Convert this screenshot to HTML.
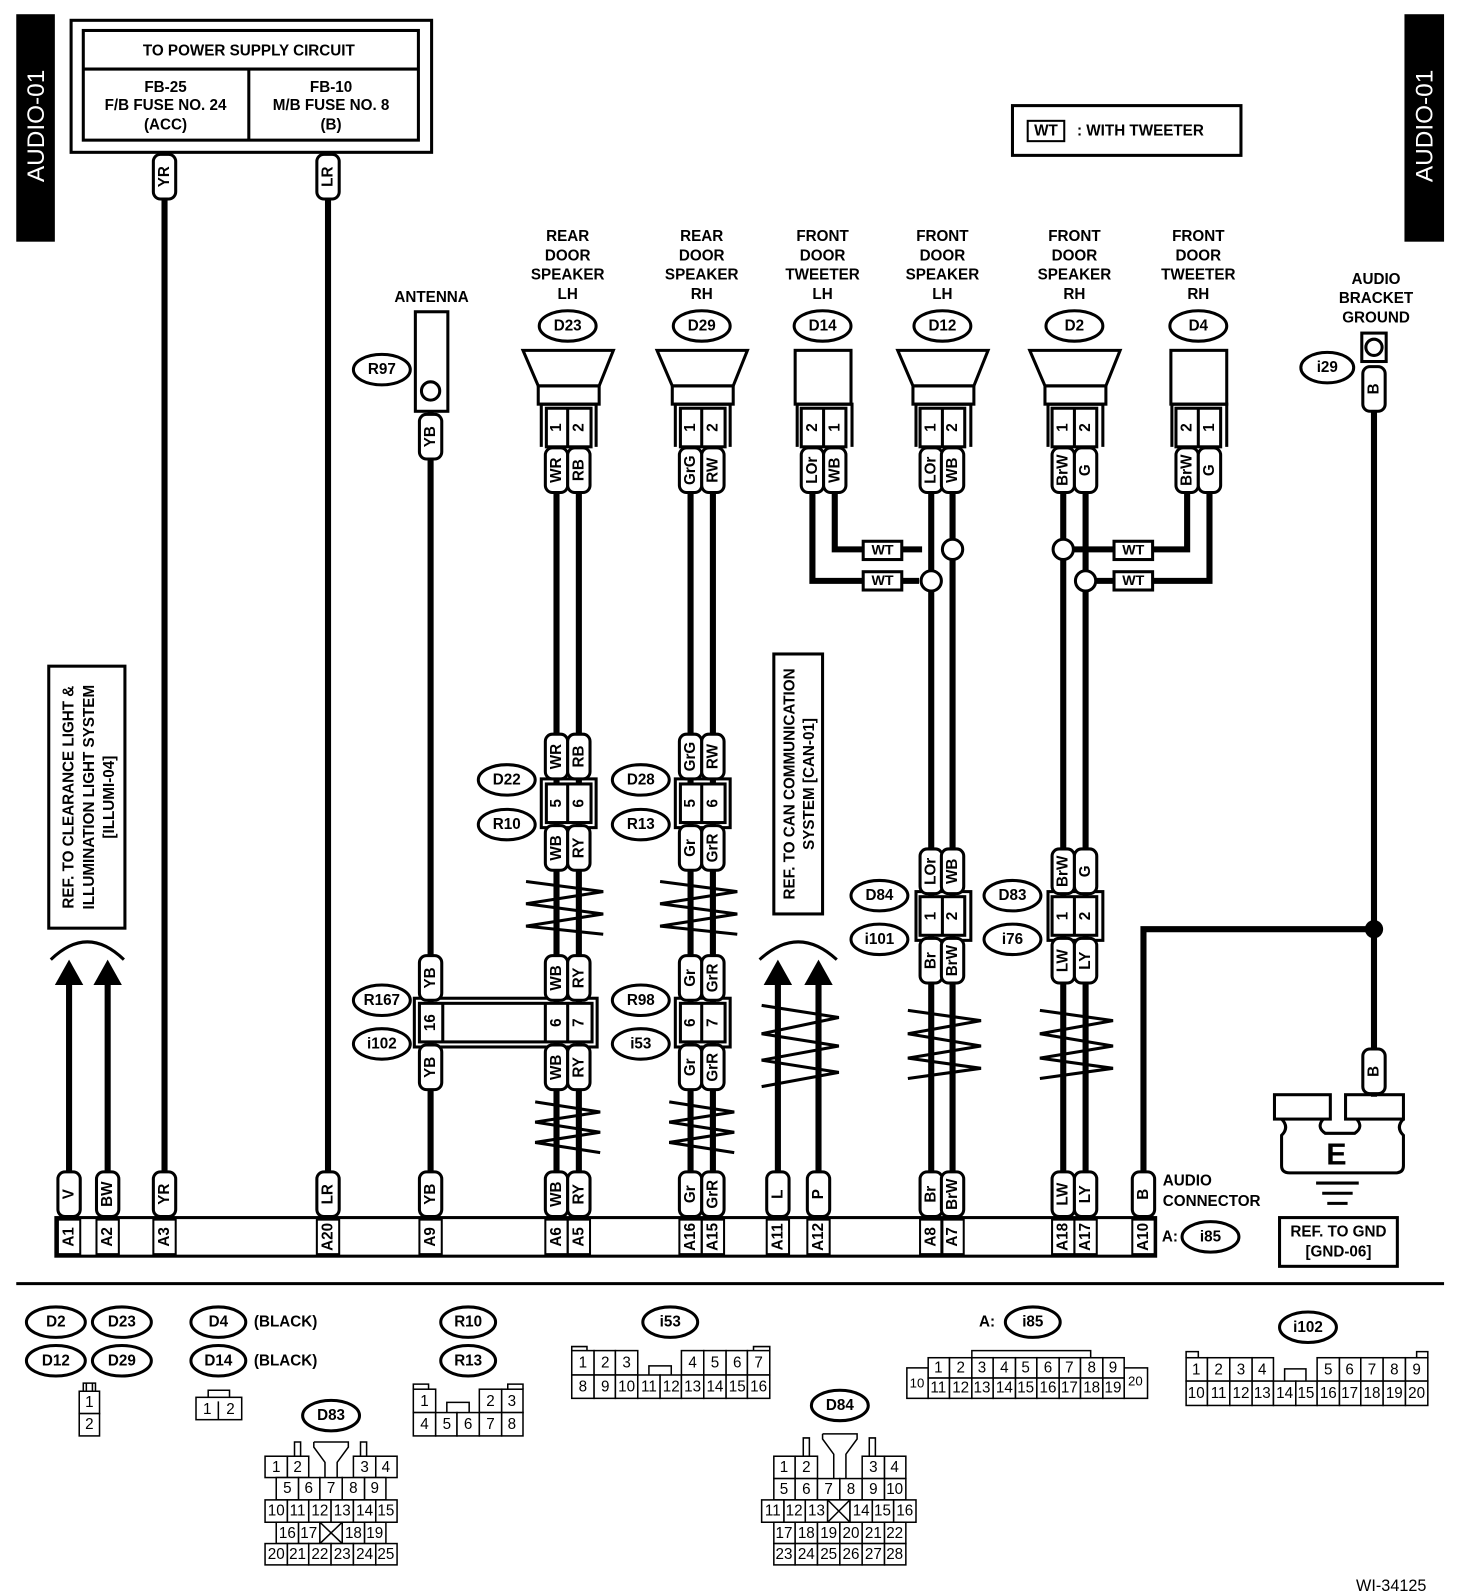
<!DOCTYPE html>
<html><head><meta charset="utf-8"><style>
html,body{margin:0;padding:0;background:#fff}
svg{display:block}
text{font-family:"Liberation Sans",Arial,sans-serif;font-weight:bold;font-size:15px;text-anchor:middle;dominant-baseline:central;fill:#000}
.w{stroke:#000;stroke-width:6;fill:none}
.pl{fill:#fff;stroke:#000;stroke-width:3}
.o{fill:#fff;stroke:#000;stroke-width:3}
.b{fill:none;stroke:#000;stroke-width:3}
.c rect{fill:#fff;stroke:#000;stroke-width:1.5}
.c text{font-weight:normal;font-size:15px}
.c path{fill:none;stroke:#000;stroke-width:1.5}
</style></head><body>
<svg width="1472" height="1592" viewBox="0 0 1449.5 1567.7" xmlns="http://www.w3.org/2000/svg">
<!-- side tabs -->
<rect x="16" y="14" width="38" height="224" fill="#000"/>
<text transform="translate(36,124) rotate(-90)" style="fill:#fff;font-weight:normal;font-size:24px">AUDIO-01</text>
<rect x="1383" y="14" width="39" height="224" fill="#000"/>
<text transform="translate(1403,124) rotate(-90)" style="fill:#fff;font-weight:normal;font-size:24px">AUDIO-01</text>

<!-- power supply box -->
<rect x="70" y="20" width="355" height="130" class="b"/>
<rect x="82" y="30" width="330" height="108" class="b"/>
<line x1="82" y1="68" x2="412" y2="68" class="b"/>
<line x1="245" y1="68" x2="245" y2="138" class="b"/>
<text x="245" y="50" style="font-size:15px">TO POWER SUPPLY CIRCUIT</text>
<text x="163" y="86">FB-25</text><text x="163" y="104">F/B FUSE NO. 24</text><text x="163" y="123">(ACC)</text>
<text x="326" y="86">FB-10</text><text x="326" y="104">M/B FUSE NO. 8</text><text x="326" y="123">(B)</text>

<!-- WT legend -->
<rect x="997" y="104" width="225" height="49" class="b"/>
<rect x="1012" y="119" width="36" height="20" class="b" style="stroke-width:2"/>
<text x="1030" y="129">WT</text><text x="1123" y="129" style="font-size:15px">: WITH TWEETER</text>

<!-- wires -->
<g class="w">
<line x1="68" y1="960" x2="68" y2="1200"/>
<line x1="106" y1="960" x2="106" y2="1200"/>
<line x1="162" y1="150" x2="162" y2="1200"/>
<line x1="323" y1="150" x2="323" y2="1200"/>
<line x1="424" y1="405" x2="424" y2="1200"/>
<line x1="548" y1="440" x2="548" y2="1200"/><line x1="570" y1="440" x2="570" y2="1200"/>
<line x1="680" y1="440" x2="680" y2="1200"/><line x1="702" y1="440" x2="702" y2="1200"/>
<line x1="766" y1="960" x2="766" y2="1200"/><line x1="806" y1="960" x2="806" y2="1200"/>
<line x1="917" y1="440" x2="917" y2="1200"/><line x1="938" y1="440" x2="938" y2="1200"/>
<line x1="1047" y1="440" x2="1047" y2="1200"/><line x1="1069" y1="440" x2="1069" y2="1200"/>
<polyline points="1126,1200 1126,915 1353,915"/>
<line x1="1353" y1="370" x2="1353" y2="1080"/>
<polyline points="800,440 800,572 905,572"/>
<polyline points="822,440 822,541 908,541"/>
<polyline points="1169,440 1169,541 1057,541"/>
<polyline points="1191,440 1191,572 1080,572"/>
</g>
<circle cx="1353" cy="915" r="9" fill="#000"/>
<!-- arrows -->
<g fill="#000"><polygon points="68,945 54,970 82,970"/><polygon points="106,945 92,970 120,970"/>
<polygon points="766,945 752,970 780,970"/><polygon points="806,945 792,970 820,970"/></g>
<path d="M50,945 Q86,910 122,945" class="b"/>
<path d="M748,945 Q786,910 824,945" class="b"/>

<!-- WT boxes & junctions -->
<g><rect x="850" y="533" width="38" height="18" class="pl"/><text x="869" y="542" style="font-size:14px">WT</text>
<rect x="850" y="563" width="38" height="18" class="pl"/><text x="869" y="572" style="font-size:14px">WT</text>
<rect x="1097" y="533" width="38" height="18" class="pl"/><text x="1116" y="542" style="font-size:14px">WT</text>
<rect x="1097" y="563" width="38" height="18" class="pl"/><text x="1116" y="572" style="font-size:14px">WT</text></g>
<circle cx="938" cy="541" r="10" class="o"/><circle cx="917" cy="572" r="10" class="o"/>
<circle cx="1047" cy="541" r="10" class="o"/><circle cx="1069" cy="572" r="10" class="o"/>

<!-- twist marks -->
<g class="b" style="stroke-width:3">
<path d="M518,868 L594,878 L518,890 L594,900 L518,912 L594,920"/>
<path d="M650,868 L726,878 L650,890 L726,900 L650,912 L726,920"/>
<path d="M527,1085 L591,1095 L527,1105 L591,1115 L527,1125 L591,1135"/>
<path d="M659,1085 L723,1095 L659,1105 L723,1115 L659,1125 L723,1135"/>
<path d="M894,995 L966,1005 L894,1018 L966,1030 L894,1042 L966,1052 L894,1062"/>
<path d="M1024,995 L1096,1005 L1024,1018 L1096,1030 L1024,1042 L1096,1052 L1024,1062"/>
<path d="M750,990 L826,1002 L750,1018 L826,1030 L750,1044 L826,1056 L750,1070"/>
</g>

<!-- REF boxes -->
<rect x="48" y="656" width="75" height="258" class="b"/>
<text transform="translate(68,785) rotate(-90)">REF. TO CLEARANCE LIGHT &amp;</text>
<text transform="translate(88,785) rotate(-90)">ILLUMINATION LIGHT SYSTEM</text>
<text transform="translate(108,785) rotate(-90)" style="text-anchor:middle">[ILLUMI-04]           </text>
<rect x="762" y="644" width="48" height="256" class="b"/>
<text transform="translate(778,772) rotate(-90)">REF. TO CAN COMMUNICATION</text>
<text transform="translate(797,772) rotate(-90)">SYSTEM [CAN-01]               </text>

<!-- speaker titles -->
<g style="font-size:15px">
<text x="559" y="233">REAR</text><text x="559" y="252">DOOR</text><text x="559" y="271">SPEAKER</text><text x="559" y="290">LH</text>
<text x="691" y="233">REAR</text><text x="691" y="252">DOOR</text><text x="691" y="271">SPEAKER</text><text x="691" y="290">RH</text>
<text x="810" y="233">FRONT</text><text x="810" y="252">DOOR</text><text x="810" y="271">TWEETER</text><text x="810" y="290">LH</text>
<text x="928" y="233">FRONT</text><text x="928" y="252">DOOR</text><text x="928" y="271">SPEAKER</text><text x="928" y="290">LH</text>
<text x="1058" y="233">FRONT</text><text x="1058" y="252">DOOR</text><text x="1058" y="271">SPEAKER</text><text x="1058" y="290">RH</text>
<text x="1180" y="233">FRONT</text><text x="1180" y="252">DOOR</text><text x="1180" y="271">TWEETER</text><text x="1180" y="290">RH</text>
<text x="425" y="293">ANTENNA</text>
<text x="1355" y="275">AUDIO</text><text x="1355" y="294">BRACKET</text><text x="1355" y="313">GROUND</text>
</g>

<!-- ovals -->
<g>
<ellipse cx="559" cy="321" rx="28" ry="15" class="o"/><text x="559" y="321">D23</text>
<ellipse cx="691" cy="321" rx="28" ry="15" class="o"/><text x="691" y="321">D29</text>
<ellipse cx="810" cy="321" rx="28" ry="15" class="o"/><text x="810" y="321">D14</text>
<ellipse cx="928" cy="321" rx="28" ry="15" class="o"/><text x="928" y="321">D12</text>
<ellipse cx="1058" cy="321" rx="28" ry="15" class="o"/><text x="1058" y="321">D2</text>
<ellipse cx="1180" cy="321" rx="28" ry="15" class="o"/><text x="1180" y="321">D4</text>
<ellipse cx="376" cy="364" rx="28" ry="15" class="o"/><text x="376" y="364">R97</text>
<ellipse cx="1307" cy="362" rx="26" ry="15" class="o"/><text x="1307" y="362">i29</text>
<ellipse cx="499" cy="768" rx="28" ry="15" class="o"/><text x="499" y="768">D22</text>
<ellipse cx="499" cy="812" rx="28" ry="15" class="o"/><text x="499" y="812">R10</text>
<ellipse cx="631" cy="768" rx="28" ry="15" class="o"/><text x="631" y="768">D28</text>
<ellipse cx="631" cy="812" rx="28" ry="15" class="o"/><text x="631" y="812">R13</text>
<ellipse cx="376" cy="985" rx="28" ry="15" class="o"/><text x="376" y="985">R167</text>
<ellipse cx="376" cy="1028" rx="28" ry="15" class="o"/><text x="376" y="1028">i102</text>
<ellipse cx="631" cy="985" rx="28" ry="15" class="o"/><text x="631" y="985">R98</text>
<ellipse cx="631" cy="1028" rx="28" ry="15" class="o"/><text x="631" y="1028">i53</text>
<ellipse cx="866" cy="882" rx="28" ry="15" class="o"/><text x="866" y="882">D84</text>
<ellipse cx="866" cy="925" rx="28" ry="15" class="o"/><text x="866" y="925">i101</text>
<ellipse cx="997" cy="882" rx="28" ry="15" class="o"/><text x="997" y="882">D83</text>
<ellipse cx="997" cy="925" rx="28" ry="15" class="o"/><text x="997" y="925">i76</text>
<ellipse cx="1192" cy="1218" rx="28" ry="15" class="o"/><text x="1192" y="1218">i85</text>
</g>
<text x="1152" y="1218">A:</text>

<!-- speakers -->
<g class="b">
<path d="M515,345 L604,345 L590,380 L530,380 Z"/><rect x="530" y="380" width="60" height="18"/>
<path d="M647,345 L736,345 L722,380 L662,380 Z"/><rect x="662" y="380" width="60" height="18"/>
<path d="M884,345 L973,345 L959,380 L899,380 Z"/><rect x="899" y="380" width="60" height="18"/>
<path d="M1014,345 L1103,345 L1089,380 L1029,380 Z"/><rect x="1029" y="380" width="60" height="18"/>
<rect x="783" y="345" width="55" height="53"/>
<rect x="1153" y="345" width="55" height="53"/>
<rect x="409" y="307" width="32" height="98"/>
<rect x="1341" y="328" width="24" height="28"/>
</g>
<circle cx="424" cy="385" r="9" class="o"/>
<circle cx="1353" cy="342" r="8" class="o"/>

<!-- connector boxes (2-pin) -->
<g class="b">
<path d="M533,440 L533,398 L587,398 L587,440"/><rect x="538" y="402" width="44" height="38"/><line x1="559" y1="402" x2="559" y2="440"/>
<path d="M665,440 L665,398 L719,398 L719,440"/><rect x="670" y="402" width="44" height="38"/><line x1="691" y1="402" x2="691" y2="440"/>
<path d="M785,440 L785,398 L839,398 L839,440"/><rect x="789" y="402" width="44" height="38"/><line x1="811" y1="402" x2="811" y2="440"/>
<path d="M902,440 L902,398 L956,398 L956,440"/><rect x="906" y="402" width="44" height="38"/><line x1="928" y1="402" x2="928" y2="440"/>
<path d="M1032,440 L1032,398 L1086,398 L1086,440"/><rect x="1036" y="402" width="44" height="38"/><line x1="1058" y1="402" x2="1058" y2="440"/>
<path d="M1154,440 L1154,398 L1208,398 L1208,440"/><rect x="1158" y="402" width="44" height="38"/><line x1="1180" y1="402" x2="1180" y2="440"/>
<!-- mid connectors -->
<rect x="533" y="767" width="54" height="48"/><rect x="538" y="772" width="44" height="38" style="fill:#fff"/><line x1="559" y1="772" x2="559" y2="810"/>
<rect x="665" y="767" width="54" height="48"/><rect x="670" y="772" width="44" height="38" style="fill:#fff"/><line x1="691" y1="772" x2="691" y2="810"/>
<rect x="902" y="878" width="54" height="48"/><rect x="906" y="883" width="44" height="38" style="fill:#fff"/><line x1="928" y1="883" x2="928" y2="921"/>
<rect x="1032" y="878" width="54" height="48"/><rect x="1036" y="883" width="44" height="38" style="fill:#fff"/><line x1="1058" y1="883" x2="1058" y2="921"/>
<rect x="408" y="983" width="180" height="48"/><rect x="413" y="988" width="170" height="38" style="fill:#fff"/>
<line x1="436" y1="988" x2="436" y2="1026"/><line x1="537" y1="988" x2="537" y2="1026"/><line x1="559" y1="988" x2="559" y2="1026"/>
<rect x="665" y="983" width="54" height="48"/><rect x="670" y="988" width="44" height="38" style="fill:#fff"/><line x1="691" y1="988" x2="691" y2="1026"/>
</g>
<!-- pin numbers -->
<g style="font-size:14px">
<text transform="translate(548,421) rotate(-90)">1</text><text transform="translate(570,421) rotate(-90)">2</text>
<text transform="translate(680,421) rotate(-90)">1</text><text transform="translate(702,421) rotate(-90)">2</text>
<text transform="translate(800,421) rotate(-90)">2</text><text transform="translate(822,421) rotate(-90)">1</text>
<text transform="translate(917,421) rotate(-90)">1</text><text transform="translate(938,421) rotate(-90)">2</text>
<text transform="translate(1047,421) rotate(-90)">1</text><text transform="translate(1069,421) rotate(-90)">2</text>
<text transform="translate(1169,421) rotate(-90)">2</text><text transform="translate(1191,421) rotate(-90)">1</text>
<text transform="translate(548,791) rotate(-90)">5</text><text transform="translate(570,791) rotate(-90)">6</text>
<text transform="translate(680,791) rotate(-90)">5</text><text transform="translate(702,791) rotate(-90)">6</text>
<text transform="translate(917,902) rotate(-90)">1</text><text transform="translate(938,902) rotate(-90)">2</text>
<text transform="translate(1047,902) rotate(-90)">1</text><text transform="translate(1069,902) rotate(-90)">2</text>
<text transform="translate(424,1007) rotate(-90)">16</text><text transform="translate(548,1007) rotate(-90)">6</text><text transform="translate(570,1007) rotate(-90)">7</text>
<text transform="translate(680,1007) rotate(-90)">6</text><text transform="translate(702,1007) rotate(-90)">7</text>
</g>

<!-- wire label pills -->
<g style="font-size:14px">
<rect x="151" y="152" width="22" height="44" rx="7" class="pl"/><text transform="translate(162,174) rotate(-90)">YR</text>
<rect x="312" y="152" width="22" height="44" rx="7" class="pl"/><text transform="translate(323,174) rotate(-90)">LR</text>
<rect x="413" y="408" width="22" height="44" rx="7" class="pl"/><text transform="translate(424,430) rotate(-90)">YB</text>
<rect x="1342" y="361" width="22" height="44" rx="7" class="pl"/><text transform="translate(1353,383) rotate(-90)">B</text>
<rect x="1342" y="1033" width="22" height="44" rx="7" class="pl"/><text transform="translate(1353,1055) rotate(-90)">B</text>
<!-- y=463 -->
<rect x="537" y="441" width="22" height="44" rx="7" class="pl"/><text transform="translate(548,463) rotate(-90)">WR</text>
<rect x="559" y="441" width="22" height="44" rx="7" class="pl"/><text transform="translate(570,463) rotate(-90)">RB</text>
<rect x="669" y="441" width="22" height="44" rx="7" class="pl"/><text transform="translate(680,463) rotate(-90)">GrG</text>
<rect x="691" y="441" width="22" height="44" rx="7" class="pl"/><text transform="translate(702,463) rotate(-90)">RW</text>
<rect x="789" y="441" width="22" height="44" rx="7" class="pl"/><text transform="translate(800,463) rotate(-90)">LOr</text>
<rect x="811" y="441" width="22" height="44" rx="7" class="pl"/><text transform="translate(822,463) rotate(-90)">WB</text>
<rect x="906" y="441" width="22" height="44" rx="7" class="pl"/><text transform="translate(917,463) rotate(-90)">LOr</text>
<rect x="927" y="441" width="22" height="44" rx="7" class="pl"/><text transform="translate(938,463) rotate(-90)">WB</text>
<rect x="1036" y="441" width="22" height="44" rx="7" class="pl"/><text transform="translate(1047,463) rotate(-90)">BrW</text>
<rect x="1058" y="441" width="22" height="44" rx="7" class="pl"/><text transform="translate(1069,463) rotate(-90)">G</text>
<rect x="1158" y="441" width="22" height="44" rx="7" class="pl"/><text transform="translate(1169,463) rotate(-90)">BrW</text>
<rect x="1180" y="441" width="22" height="44" rx="7" class="pl"/><text transform="translate(1191,463) rotate(-90)">G</text>
<!-- 745 -->
<rect x="537" y="723" width="22" height="44" rx="7" class="pl"/><text transform="translate(548,745) rotate(-90)">WR</text>
<rect x="559" y="723" width="22" height="44" rx="7" class="pl"/><text transform="translate(570,745) rotate(-90)">RB</text>
<rect x="669" y="723" width="22" height="44" rx="7" class="pl"/><text transform="translate(680,745) rotate(-90)">GrG</text>
<rect x="691" y="723" width="22" height="44" rx="7" class="pl"/><text transform="translate(702,745) rotate(-90)">RW</text>
<!-- 833 -->
<rect x="537" y="813" width="22" height="44" rx="7" class="pl"/><text transform="translate(548,835) rotate(-90)">WB</text>
<rect x="559" y="813" width="22" height="44" rx="7" class="pl"/><text transform="translate(570,835) rotate(-90)">RY</text>
<rect x="669" y="813" width="22" height="44" rx="7" class="pl"/><text transform="translate(680,835) rotate(-90)">Gr</text>
<rect x="691" y="813" width="22" height="44" rx="7" class="pl"/><text transform="translate(702,835) rotate(-90)">GrR</text>
<!-- 858 -->
<rect x="906" y="836" width="22" height="44" rx="7" class="pl"/><text transform="translate(917,858) rotate(-90)">LOr</text>
<rect x="927" y="836" width="22" height="44" rx="7" class="pl"/><text transform="translate(938,858) rotate(-90)">WB</text>
<rect x="1036" y="836" width="22" height="44" rx="7" class="pl"/><text transform="translate(1047,858) rotate(-90)">BrW</text>
<rect x="1058" y="836" width="22" height="44" rx="7" class="pl"/><text transform="translate(1069,858) rotate(-90)">G</text>
<!-- 947 -->
<rect x="906" y="924" width="22" height="44" rx="7" class="pl"/><text transform="translate(917,946) rotate(-90)">Br</text>
<rect x="927" y="924" width="22" height="44" rx="7" class="pl"/><text transform="translate(938,946) rotate(-90)">BrW</text>
<rect x="1036" y="924" width="22" height="44" rx="7" class="pl"/><text transform="translate(1047,946) rotate(-90)">LW</text>
<rect x="1058" y="924" width="22" height="44" rx="7" class="pl"/><text transform="translate(1069,946) rotate(-90)">LY</text>
<!-- 963 -->
<rect x="413" y="941" width="22" height="44" rx="7" class="pl"/><text transform="translate(424,963) rotate(-90)">YB</text>
<rect x="537" y="941" width="22" height="44" rx="7" class="pl"/><text transform="translate(548,963) rotate(-90)">WB</text>
<rect x="559" y="941" width="22" height="44" rx="7" class="pl"/><text transform="translate(570,963) rotate(-90)">RY</text>
<rect x="669" y="941" width="22" height="44" rx="7" class="pl"/><text transform="translate(680,963) rotate(-90)">Gr</text>
<rect x="691" y="941" width="22" height="44" rx="7" class="pl"/><text transform="translate(702,963) rotate(-90)">GrR</text>
<!-- 1050 -->
<rect x="413" y="1029" width="22" height="44" rx="7" class="pl"/><text transform="translate(424,1051) rotate(-90)">YB</text>
<rect x="537" y="1029" width="22" height="44" rx="7" class="pl"/><text transform="translate(548,1051) rotate(-90)">WB</text>
<rect x="559" y="1029" width="22" height="44" rx="7" class="pl"/><text transform="translate(570,1051) rotate(-90)">RY</text>
<rect x="669" y="1029" width="22" height="44" rx="7" class="pl"/><text transform="translate(680,1051) rotate(-90)">Gr</text>
<rect x="691" y="1029" width="22" height="44" rx="7" class="pl"/><text transform="translate(702,1051) rotate(-90)">GrR</text>
<!-- 1175 -->
<rect x="57" y="1154" width="22" height="44" rx="7" class="pl"/><text transform="translate(68,1176) rotate(-90)">V</text>
<rect x="95" y="1154" width="22" height="44" rx="7" class="pl"/><text transform="translate(106,1176) rotate(-90)">BW</text>
<rect x="151" y="1154" width="22" height="44" rx="7" class="pl"/><text transform="translate(162,1176) rotate(-90)">YR</text>
<rect x="312" y="1154" width="22" height="44" rx="7" class="pl"/><text transform="translate(323,1176) rotate(-90)">LR</text>
<rect x="413" y="1154" width="22" height="44" rx="7" class="pl"/><text transform="translate(424,1176) rotate(-90)">YB</text>
<rect x="537" y="1154" width="22" height="44" rx="7" class="pl"/><text transform="translate(548,1176) rotate(-90)">WB</text>
<rect x="559" y="1154" width="22" height="44" rx="7" class="pl"/><text transform="translate(570,1176) rotate(-90)">RY</text>
<rect x="669" y="1154" width="22" height="44" rx="7" class="pl"/><text transform="translate(680,1176) rotate(-90)">Gr</text>
<rect x="691" y="1154" width="22" height="44" rx="7" class="pl"/><text transform="translate(702,1176) rotate(-90)">GrR</text>
<rect x="755" y="1154" width="22" height="44" rx="7" class="pl"/><text transform="translate(766,1176) rotate(-90)">L</text>
<rect x="795" y="1154" width="22" height="44" rx="7" class="pl"/><text transform="translate(806,1176) rotate(-90)">P</text>
<rect x="906" y="1154" width="22" height="44" rx="7" class="pl"/><text transform="translate(917,1176) rotate(-90)">Br</text>
<rect x="927" y="1154" width="22" height="44" rx="7" class="pl"/><text transform="translate(938,1176) rotate(-90)">BrW</text>
<rect x="1036" y="1154" width="22" height="44" rx="7" class="pl"/><text transform="translate(1047,1176) rotate(-90)">LW</text>
<rect x="1058" y="1154" width="22" height="44" rx="7" class="pl"/><text transform="translate(1069,1176) rotate(-90)">LY</text>
<rect x="1115" y="1154" width="22" height="44" rx="7" class="pl"/><text transform="translate(1126,1176) rotate(-90)">B</text>
</g>

<!-- audio connector bar -->
<rect x="55" y="1199" width="1083" height="38" class="b"/>
<g class="b" style="stroke-width:2">
<rect x="57" y="1201" width="22" height="34"/><rect x="95" y="1201" width="22" height="34"/><rect x="151" y="1201" width="22" height="34"/>
<rect x="312" y="1201" width="22" height="34"/><rect x="413" y="1201" width="22" height="34"/><rect x="537" y="1201" width="22" height="34"/>
<rect x="559" y="1201" width="22" height="34"/><rect x="669" y="1201" width="22" height="34"/><rect x="691" y="1201" width="22" height="34"/>
<rect x="755" y="1201" width="22" height="34"/><rect x="795" y="1201" width="22" height="34"/><rect x="906" y="1201" width="22" height="34"/>
<rect x="927" y="1201" width="22" height="34"/><rect x="1036" y="1201" width="22" height="34"/><rect x="1058" y="1201" width="22" height="34"/>
<rect x="1115" y="1201" width="22" height="34"/>
</g>
<g style="font-size:14px">
<text transform="translate(68,1218) rotate(-90)">A1</text><text transform="translate(106,1218) rotate(-90)">A2</text>
<text transform="translate(162,1218) rotate(-90)">A3</text><text transform="translate(323,1218) rotate(-90)">A20</text>
<text transform="translate(424,1218) rotate(-90)">A9</text><text transform="translate(548,1218) rotate(-90)">A6</text>
<text transform="translate(570,1218) rotate(-90)">A5</text><text transform="translate(680,1218) rotate(-90)">A16</text>
<text transform="translate(702,1218) rotate(-90)">A15</text><text transform="translate(766,1218) rotate(-90)">A11</text>
<text transform="translate(806,1218) rotate(-90)">A12</text><text transform="translate(917,1218) rotate(-90)">A8</text>
<text transform="translate(938,1218) rotate(-90)">A7</text><text transform="translate(1047,1218) rotate(-90)">A18</text>
<text transform="translate(1069,1218) rotate(-90)">A17</text><text transform="translate(1126,1218) rotate(-90)">A10</text>
</g>
<text x="1145" y="1163" style="text-anchor:start">AUDIO</text>
<text x="1145" y="1183" style="text-anchor:start">CONNECTOR</text>

<!-- ground E -->
<g class="b">
<rect x="1255" y="1078" width="55" height="24"/><rect x="1325" y="1078" width="57" height="24"/>
<path d="M1262,1102 Q1270,1110 1262,1118 L1262,1148 Q1262,1155 1270,1155 L1374,1155 Q1382,1155 1382,1148 L1382,1118 Q1374,1110 1382,1102"/>
<path d="M1303,1102 Q1296,1110 1305,1116 L1334,1116 Q1343,1110 1336,1102"/>
</g>
<text x="1316" y="1137" style="font-size:30px">E</text>
<g class="b"><line x1="1296" y1="1165" x2="1338" y2="1165"/><line x1="1302" y1="1175" x2="1332" y2="1175"/><line x1="1307" y1="1185" x2="1327" y2="1185"/></g>
<rect x="1260" y="1199" width="116" height="48" class="b"/>
<text x="1318" y="1213" style="font-size:15px">REF. TO GND</text><text x="1318" y="1233" style="font-size:15px">[GND-06]</text>

<!-- separator -->
<line x1="16" y1="1264" x2="1422" y2="1264" stroke="#000" stroke-width="3"/>

<!-- bottom ovals -->
<g>
<ellipse cx="55" cy="1302" rx="29" ry="15" class="o"/><text x="55" y="1302">D2</text>
<ellipse cx="120" cy="1302" rx="29" ry="15" class="o"/><text x="120" y="1302">D23</text>
<ellipse cx="55" cy="1340" rx="29" ry="15" class="o"/><text x="55" y="1340">D12</text>
<ellipse cx="120" cy="1340" rx="29" ry="15" class="o"/><text x="120" y="1340">D29</text>
<ellipse cx="215" cy="1302" rx="27" ry="15" class="o"/><text x="215" y="1302">D4</text>
<ellipse cx="215" cy="1340" rx="27" ry="15" class="o"/><text x="215" y="1340">D14</text>
<ellipse cx="461" cy="1302" rx="27" ry="15" class="o"/><text x="461" y="1302">R10</text>
<ellipse cx="461" cy="1340" rx="27" ry="15" class="o"/><text x="461" y="1340">R13</text>
<ellipse cx="660" cy="1302" rx="27" ry="15" class="o"/><text x="660" y="1302">i53</text>
<ellipse cx="1017" cy="1302" rx="27" ry="15" class="o"/><text x="1017" y="1302">i85</text>
<ellipse cx="1288" cy="1307" rx="28" ry="15" class="o"/><text x="1288" y="1307">i102</text>
<ellipse cx="326" cy="1394" rx="28" ry="15" class="o"/><text x="326" y="1394">D83</text>
<ellipse cx="827" cy="1384" rx="28" ry="15" class="o"/><text x="827" y="1384">D84</text>
</g>
<text x="250" y="1302" style="text-anchor:start">(BLACK)</text>
<text x="250" y="1340" style="text-anchor:start">(BLACK)</text>
<text x="972" y="1302">A:</text>
<text x="1370" y="1562" style="font-weight:normal;font-size:16px">WI-34125</text>

<g class="c">
<!-- D2 small -->
<path d="M82,1370 L82,1362 L94,1362 L94,1370 M85,1362 L85,1370 M91,1362 L91,1370"/>
<rect x="78" y="1370" width="20" height="22"/><text x="88" y="1381">1</text>
<rect x="78" y="1392" width="20" height="22"/><text x="88" y="1403">2</text>
<!-- D4 small -->
<path d="M205,1376 L205,1369 L226,1369 L226,1376"/>
<rect x="193" y="1376" width="45" height="22"/><path d="M215,1380 L215,1398"/><text x="204" y="1388">1</text><text x="227" y="1388">2</text>
<!-- R10 -->
<path d="M407,1368 L407,1363 L422,1363 L422,1368 M500,1368 L500,1363 L515,1363 L515,1368"/>
<rect x="407" y="1368" width="22" height="23"/><text x="418" y="1380">1</text>
<path d="M440,1391 L440,1381 L462,1381 L462,1391"/>
<rect x="472" y="1368" width="22" height="23"/><text x="483" y="1380">2</text>
<rect x="494" y="1368" width="21" height="23"/><text x="504" y="1380">3</text>
<rect x="407" y="1391" width="22" height="23"/><text x="418" y="1403">4</text>
<rect x="429" y="1391" width="21" height="23"/><text x="440" y="1403">5</text>
<rect x="450" y="1391" width="22" height="23"/><text x="461" y="1403">6</text>
<rect x="472" y="1391" width="22" height="23"/><text x="483" y="1403">7</text>
<rect x="494" y="1391" width="21" height="23"/><text x="504" y="1403">8</text>
<!-- i53 -->
<path d="M563,1330 L563,1326 L578,1326 L578,1330 M742,1330 L742,1326 L758,1326 L758,1330"/>
<rect x="563" y="1330" width="22" height="24"/><text x="574" y="1342">1</text>
<rect x="585" y="1330" width="21" height="24"/><text x="596" y="1342">2</text>
<rect x="606" y="1330" width="22" height="24"/><text x="617" y="1342">3</text>
<path d="M639,1354 L639,1345 L661,1345 L661,1354"/>
<rect x="671" y="1330" width="22" height="24"/><text x="682" y="1342">4</text>
<rect x="693" y="1330" width="22" height="24"/><text x="704" y="1342">5</text>
<rect x="715" y="1330" width="21" height="24"/><text x="726" y="1342">6</text>
<rect x="736" y="1330" width="22" height="24"/><text x="747" y="1342">7</text>
<rect x="563" y="1354" width="22" height="23"/><text x="574" y="1366">8</text>
<rect x="585" y="1354" width="21" height="23"/><text x="596" y="1366">9</text>
<rect x="606" y="1354" width="22" height="23"/><text x="617" y="1366">10</text>
<rect x="628" y="1354" width="22" height="23"/><text x="639" y="1366">11</text>
<rect x="650" y="1354" width="21" height="23"/><text x="661" y="1366">12</text>
<rect x="671" y="1354" width="22" height="23"/><text x="682" y="1366">13</text>
<rect x="693" y="1354" width="22" height="23"/><text x="704" y="1366">14</text>
<rect x="715" y="1354" width="21" height="23"/><text x="726" y="1366">15</text>
<rect x="736" y="1354" width="22" height="23"/><text x="747" y="1366">16</text>
<!-- i85 -->
<path d="M957,1337 L957,1330 L1074,1330 L1074,1337"/>
<rect x="893" y="1347" width="21" height="30"/><text x="903" y="1362" style="font-size:13px">10</text>
<rect x="1107" y="1347" width="23" height="30"/><text x="1118" y="1360" style="font-size:13px">20</text>
<rect x="914" y="1337" width="21" height="20"/><text x="924" y="1347">1</text>
<rect x="935" y="1337" width="22" height="20"/><text x="946" y="1347">2</text>
<rect x="957" y="1337" width="21" height="20"/><text x="967" y="1347">3</text>
<rect x="978" y="1337" width="22" height="20"/><text x="989" y="1347">4</text>
<rect x="1000" y="1337" width="21" height="20"/><text x="1010" y="1347">5</text>
<rect x="1021" y="1337" width="22" height="20"/><text x="1032" y="1347">6</text>
<rect x="1043" y="1337" width="21" height="20"/><text x="1053" y="1347">7</text>
<rect x="1064" y="1337" width="22" height="20"/><text x="1075" y="1347">8</text>
<rect x="1086" y="1337" width="21" height="20"/><text x="1096" y="1347">9</text>
<rect x="914" y="1357" width="21" height="20"/><text x="924" y="1367">11</text>
<rect x="935" y="1357" width="22" height="20"/><text x="946" y="1367">12</text>
<rect x="957" y="1357" width="21" height="20"/><text x="967" y="1367">13</text>
<rect x="978" y="1357" width="22" height="20"/><text x="989" y="1367">14</text>
<rect x="1000" y="1357" width="21" height="20"/><text x="1010" y="1367">15</text>
<rect x="1021" y="1357" width="22" height="20"/><text x="1032" y="1367">16</text>
<rect x="1043" y="1357" width="21" height="20"/><text x="1053" y="1367">17</text>
<rect x="1064" y="1357" width="22" height="20"/><text x="1075" y="1367">18</text>
<rect x="1086" y="1357" width="21" height="20"/><text x="1096" y="1367">19</text>
<!-- i102 -->
<path d="M1168,1337 L1168,1331 L1180,1331 L1180,1337 M1395,1337 L1395,1331 L1406,1331 L1406,1337"/>
<rect x="1168" y="1337" width="21" height="23"/><text x="1178" y="1349">1</text>
<rect x="1189" y="1337" width="22" height="23"/><text x="1200" y="1349">2</text>
<rect x="1211" y="1337" width="22" height="23"/><text x="1222" y="1349">3</text>
<rect x="1233" y="1337" width="21" height="23"/><text x="1243" y="1349">4</text>
<path d="M1265,1360 L1265,1348 L1286,1348 L1286,1360"/>
<rect x="1297" y="1337" width="22" height="23"/><text x="1308" y="1349">5</text>
<rect x="1319" y="1337" width="21" height="23"/><text x="1329" y="1349">6</text>
<rect x="1340" y="1337" width="22" height="23"/><text x="1351" y="1349">7</text>
<rect x="1362" y="1337" width="22" height="23"/><text x="1373" y="1349">8</text>
<rect x="1384" y="1337" width="22" height="23"/><text x="1395" y="1349">9</text>
<rect x="1168" y="1360" width="21" height="24"/><text x="1178" y="1372">10</text>
<rect x="1189" y="1360" width="22" height="24"/><text x="1200" y="1372">11</text>
<rect x="1211" y="1360" width="22" height="24"/><text x="1222" y="1372">12</text>
<rect x="1233" y="1360" width="21" height="24"/><text x="1243" y="1372">13</text>
<rect x="1254" y="1360" width="22" height="24"/><text x="1265" y="1372">14</text>
<rect x="1276" y="1360" width="21" height="24"/><text x="1286" y="1372">15</text>
<rect x="1297" y="1360" width="22" height="24"/><text x="1308" y="1372">16</text>
<rect x="1319" y="1360" width="21" height="24"/><text x="1329" y="1372">17</text>
<rect x="1340" y="1360" width="22" height="24"/><text x="1351" y="1372">18</text>
<rect x="1362" y="1360" width="22" height="24"/><text x="1373" y="1372">19</text>
<rect x="1384" y="1360" width="22" height="24"/><text x="1395" y="1372">20</text>

<!-- D83 -->
<path d="M290,1434 L290,1420 L296,1420 L296,1434 M355,1434 L355,1420 L361,1420 L361,1434"/>
<path d="M309,1420 L343,1420 L343,1425 L332,1440 L332,1455 M309,1420 L309,1425 L320,1440 L320,1455"/>
<rect x="261" y="1434" width="22" height="21"/><text x="272" y="1445">1</text>
<rect x="283" y="1434" width="21" height="21"/><text x="293" y="1445">2</text>
<rect x="348" y="1434" width="22" height="21"/><text x="359" y="1445">3</text>
<rect x="370" y="1434" width="21" height="21"/><text x="380" y="1445">4</text>
<rect x="272" y="1455" width="22" height="22"/><text x="283" y="1466">5</text>
<rect x="294" y="1455" width="21" height="22"/><text x="304" y="1466">6</text>
<rect x="315" y="1455" width="22" height="22"/><text x="326" y="1466">7</text>
<rect x="337" y="1455" width="22" height="22"/><text x="348" y="1466">8</text>
<rect x="359" y="1455" width="21" height="22"/><text x="369" y="1466">9</text>
<rect x="261" y="1477" width="22" height="22"/><text x="272" y="1488">10</text>
<rect x="283" y="1477" width="21" height="22"/><text x="293" y="1488">11</text>
<rect x="304" y="1477" width="22" height="22"/><text x="315" y="1488">12</text>
<rect x="326" y="1477" width="22" height="22"/><text x="337" y="1488">13</text>
<rect x="348" y="1477" width="22" height="22"/><text x="359" y="1488">14</text>
<rect x="370" y="1477" width="21" height="22"/><text x="380" y="1488">15</text>
<rect x="272" y="1499" width="22" height="21"/><text x="283" y="1510">16</text>
<rect x="294" y="1499" width="21" height="21"/><text x="304" y="1510">17</text>
<rect x="315" y="1499" width="22" height="21"/><path d="M315,1499 L337,1520 M337,1499 L315,1520"/>
<rect x="337" y="1499" width="22" height="21"/><text x="348" y="1510">18</text>
<rect x="359" y="1499" width="21" height="21"/><text x="369" y="1510">19</text>
<rect x="261" y="1520" width="22" height="21"/><text x="272" y="1531">20</text>
<rect x="283" y="1520" width="21" height="21"/><text x="293" y="1531">21</text>
<rect x="304" y="1520" width="22" height="21"/><text x="315" y="1531">22</text>
<rect x="326" y="1520" width="22" height="21"/><text x="337" y="1531">23</text>
<rect x="348" y="1520" width="22" height="21"/><text x="359" y="1531">24</text>
<rect x="370" y="1520" width="21" height="21"/><text x="380" y="1531">25</text>

<!-- D84 -->
<path d="M791,1434 L791,1416 L797,1416 L797,1434 M856,1434 L856,1416 L862,1416 L862,1434"/>
<path d="M810,1412 L844,1412 L844,1417 L833,1432 L833,1456 M810,1412 L810,1417 L821,1432 L821,1456"/>
<rect x="762" y="1434" width="21" height="22"/><text x="772" y="1445">1</text>
<rect x="783" y="1434" width="22" height="22"/><text x="794" y="1445">2</text>
<rect x="849" y="1434" width="22" height="22"/><text x="860" y="1445">3</text>
<rect x="871" y="1434" width="21" height="22"/><text x="881" y="1445">4</text>
<rect x="762" y="1456" width="21" height="21"/><text x="772" y="1467">5</text>
<rect x="783" y="1456" width="22" height="21"/><text x="794" y="1467">6</text>
<rect x="805" y="1456" width="22" height="21"/><text x="816" y="1467">7</text>
<rect x="827" y="1456" width="22" height="21"/><text x="838" y="1467">8</text>
<rect x="849" y="1456" width="22" height="21"/><text x="860" y="1467">9</text>
<rect x="871" y="1456" width="21" height="21"/><text x="881" y="1467">10</text>
<rect x="750" y="1477" width="22" height="22"/><text x="761" y="1488">11</text>
<rect x="772" y="1477" width="21" height="22"/><text x="782" y="1488">12</text>
<rect x="793" y="1477" width="22" height="22"/><text x="804" y="1488">13</text>
<rect x="815" y="1477" width="22" height="22"/><path d="M815,1477 L837,1499 M837,1477 L815,1499"/>
<rect x="837" y="1477" width="22" height="22"/><text x="848" y="1488">14</text>
<rect x="859" y="1477" width="21" height="22"/><text x="869" y="1488">15</text>
<rect x="880" y="1477" width="22" height="22"/><text x="891" y="1488">16</text>
<rect x="762" y="1499" width="21" height="21"/><text x="772" y="1510">17</text>
<rect x="783" y="1499" width="22" height="21"/><text x="794" y="1510">18</text>
<rect x="805" y="1499" width="22" height="21"/><text x="816" y="1510">19</text>
<rect x="827" y="1499" width="22" height="21"/><text x="838" y="1510">20</text>
<rect x="849" y="1499" width="22" height="21"/><text x="860" y="1510">21</text>
<rect x="871" y="1499" width="21" height="21"/><text x="881" y="1510">22</text>
<rect x="762" y="1520" width="21" height="21"/><text x="772" y="1531">23</text>
<rect x="783" y="1520" width="22" height="21"/><text x="794" y="1531">24</text>
<rect x="805" y="1520" width="22" height="21"/><text x="816" y="1531">25</text>
<rect x="827" y="1520" width="22" height="21"/><text x="838" y="1531">26</text>
<rect x="849" y="1520" width="22" height="21"/><text x="860" y="1531">27</text>
<rect x="871" y="1520" width="21" height="21"/><text x="881" y="1531">28</text>
</g>
</svg>
</body></html>
